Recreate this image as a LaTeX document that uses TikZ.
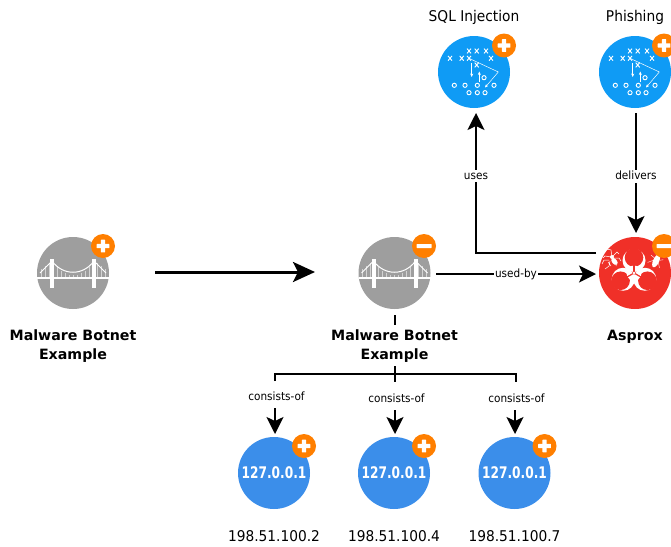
\documentclass[tikz,border=0pt]{standalone}
\usepackage{fontspec}
\setmainfont{DejaVu Sans}
\usetikzlibrary{arrows.meta,calc}
\definecolor{grayc}{HTML}{9E9E9E}
\definecolor{orangec}{HTML}{FF7F00}
\definecolor{bluec}{HTML}{0F9BF5}
\definecolor{ipc}{HTML}{3B8EEA}
\definecolor{redc}{HTML}{F03028}
\tikzset{
  disc/.style={circle,draw=none,minimum size=72pt,inner sep=0pt,fill=#1},
  badge/.style={circle,draw=none,fill=orangec,minimum size=24pt,inner sep=0pt},
  bold label/.style={font=\fontsize{14.2}{19.5}\selectfont\bfseries,align=center,inner sep=0pt},
  name label/.style={font=\fontsize{14.8}{16.5}\selectfont,inner sep=0pt,xscale=.93},
  edge label/.style={font=\fontsize{11.4}{12}\selectfont,fill=white,inner sep=1pt,xscale=.92,text height=8.5pt,text depth=2pt},
  conn/.style={draw=black,line width=2pt,-{Stealth[length=17pt,width=17pt,inset=4pt]}},
  plain conn/.style={draw=black,line width=2pt},
  big conn/.style={draw=black,line width=3pt,-{Stealth[length=22pt,width=20pt,inset=5pt]}},
  icon/.style={draw=white,line width=.9pt},
  thin icon/.style={draw=white,line width=.5pt}
}
\newcommand{\plusbadge}[3]{%
  \node[badge] (#1) at (#2,#3) {};
  \fill[white,rounded corners=.5pt] (#2-6.3,#3-2.2) rectangle (#2+6.3,#3+2.2);
  \fill[white,rounded corners=.5pt] (#2-2.2,#3-6.3) rectangle (#2+2.2,#3+6.3);}
\newcommand{\minusbadge}[3]{%
  \node[badge] (#1) at (#2,#3) {};
  \fill[white,rounded corners=.5pt] (#2-7.5,#3-2) rectangle (#2+7.5,#3+2);}
\newcommand{\bridgeicon}[2]{%
  \begin{scope}[shift={(#1,#2)}]
    \foreach \hx in {-32,-28,-24,-16,-12,-8,-4,0,4,8,12,16,24,28,32}
      \draw[white,opacity=.55,line width=.6pt] (\hx,5) -- (\hx,{\hx*\hx/441*(-13)+2+(abs(\hx)>22?(abs(\hx)-22)*2.4+0:0)});
    \draw[icon,line width=1pt] (-21,-12) .. controls (-10,3) and (10,3) .. (21,-12);
    \draw[icon] (-21,-12) -- (-33,0);
    \draw[icon] (21,-12) -- (33,0);
    \fill[white] (-36,3.5) rectangle (36,6);
    \fill[white] (-23,-14) rectangle (-19,15);
    \fill[white] (19,-14) rectangle (23,15);
  \end{scope}}
\newcommand{\playicon}[2]{%
  \begin{scope}[shift={(#1,#2)}]
    \foreach \px/\py in {-5/-21,2.7/-21,12/-21,-24/-13.7,-12.3/-13.7,-5/-13.7,17/-13.7,2.7/-7}
      \draw[icon] (\px-2,\py-2.4) -- (\px+2,\py+2.4) (\px-2,\py+2.4) -- (\px+2,\py-2.4);
    \foreach \px/\py in {10/5.7,-19.7/13.3,-9/13.3,3.3/13.3,20/13.3,-5/20.7,3.3/20.7,11/20.7}
      \draw[icon] (\px,\py) circle (2.1);
    \draw[thin icon,-{Stealth[length=3.5pt,width=3pt]}] (-5,-13.7) -- (24.3,0) -- (11,15.5);
    \draw[thin icon,-{Stealth[length=3.5pt,width=3pt]}] (-2.3,-9) -- (-2.3,5);
    \draw[thin icon,-{Stealth[length=3.5pt,width=3pt]}] (5.3,10) -- (5.3,-0.5);
  \end{scope}}
\newcommand{\ipicon}[2]{\node[font=\fontsize{16}{16}\selectfont\bfseries,text=white,inner sep=0pt,xscale=.76] at (#1,#2) {127.0.0.1};}
\newcommand{\bioicon}[2]{%
  \begin{scope}[shift={(#1,#2)}]
    \foreach \a in {270,150,30}
      \fill[white] (\a:12.5) circle (11.5);
    \foreach \a in {270,150,30}
      \fill[redc] (\a:15.5) circle (9.3);
    \draw[white,line width=1.7pt] (0,0) circle (6.6);
    \foreach \a in {270,150,30}
      \draw[redc,line width=1.2pt] (0,0) -- (\a:9);
    \fill[white] (0,0) circle (1.3);
    % spider
    \begin{scope}[shift={(-22,-16)}]
      \fill[white] (0,0) circle (2pt);
      \fill[white,rotate=40] (-1,5) ellipse (2.5pt and 4pt);
      \draw[white,line width=.5pt] (0,0) -- (5,-5) -- (7,-3) (0,0) -- (-1,-7) -- (-5,-8) (1,1) -- (7,1) -- (9,4) (-1,0) -- (-7,-1) -- (-9,1) (-3,3) -- (-8,3) -- (-10,7) (-2,4) -- (-3,9) -- (-7,12) (-4,5) -- (-1,9) (1,1) -- (4,6) -- (4,9);
    \end{scope}
    % cockroach
    \begin{scope}[shift={(23,-14)},rotate=-25]
      \fill[white] (0,2) ellipse (3pt and 7pt);
      \fill[white] (0,-6) circle (1.5pt);
      \draw[white,line width=.4pt] (-1,-7) -- (-4,-13) (-3,0) -- (-7,-1) (-3,3) -- (-7,7) (3,0) -- (6,-2) (3,3) -- (6,7);
    \end{scope}
  \end{scope}}
\begin{document}
\begin{tikzpicture}[x=1pt,y=-1pt]
\useasboundingbox (0,0) rectangle (671,546);
\clip (0,0) rectangle (671,546);
\node[disc=grayc] (b1) at (73,273) {};
\bridgeicon{73}{273}
\plusbadge{b1b}{103}{246}
\node[bold label] (b1t) at (73,346) {Malware Botnet\\Example};
\node[disc=grayc] (b2) at (394.5,273) {};
\bridgeicon{394.5}{273}
\minusbadge{b2b}{424}{246}
\node[bold label] (b2t) at (394.5,346) {Malware Botnet\\Example};
\node[disc=redc] (red) at (635,273) {};
\bioicon{634}{273}
\minusbadge{redb}{664}{246}
\node[bold label] (redt) at (635,336.5) {Asprox};
\node[disc=bluec] (sql) at (474,72) {};
\playicon{474}{72}
\plusbadge{sqlb}{504}{45.5}
\node[name label] (sqlt) at (474,17.5) {SQL Injection};
\node[disc=bluec] (ph) at (635,72) {};
\playicon{635}{72}
\plusbadge{phb}{664}{45.5}
\node[name label] (pht) at (635,17.5) {Phishing};
\foreach \n/\cx/\ipn in {ip1/274/2,ip2/394/4,ip3/514.5/7}{
  \node[disc=ipc] (\n) at (\cx,473) {};
  \ipicon{\cx}{473}
  \plusbadge{\n b}{\cx+30}{446}
  \node[name label] (\n t) at (\cx,536) {198.51.100.\ipn};
}
\coordinate (bigs) at (155,272);
\coordinate (bige) at (315,272);
\coordinate (u0) at (436,274);
\coordinate (u1) at (596,274);
\coordinate (s0) at (596,253);
\coordinate (s1) at (476,253);
\coordinate (s2) at (476,113);
\coordinate (p0) at (636,113);
\coordinate (p1) at (636,233);
\coordinate (st0) at (395,315);
\coordinate (st1) at (395,325);
\coordinate (t0) at (395,366);
\coordinate (tj) at (395,374);
\coordinate (t1) at (395,382);
\coordinate (tl) at (275,381);
\coordinate (tr) at (516,382);
\coordinate (a1) at (275,408);
\coordinate (a1e) at (275,434);
\coordinate (a2) at (395,410);
\coordinate (a2e) at (395,434);
\coordinate (a3) at (515,410);
\coordinate (a3e) at (515,434);
\draw[big conn] (bigs) -- (bige);
\draw[conn] (u0) -- node[edge label] (lu) {used-by} (u1);
\draw[conn] (s0) -- (s1) -- node[edge label,pos=.55] (luses) {uses} (s2);
\draw[conn] (p0) -- node[edge label,pos=.53] (ld) {delivers} (p1);
\draw[plain conn] (st0) -- (st1);
\draw[plain conn] (t0) -- (t1);
\draw[plain conn] (tl) -- (tl |- tj) -- (tr |- tj) -- (tr);
\node[edge label] (c1) at (276.5,397) {consists-of};
\node[edge label] (c2) at (396.5,399) {consists-of};
\node[edge label] (c3) at (516.5,399) {consists-of};
\draw[conn] (a1) -- (a1e);
\draw[conn] (a2) -- (a2e);
\draw[conn] (a3) -- (a3e);
\end{tikzpicture}
\end{document}
